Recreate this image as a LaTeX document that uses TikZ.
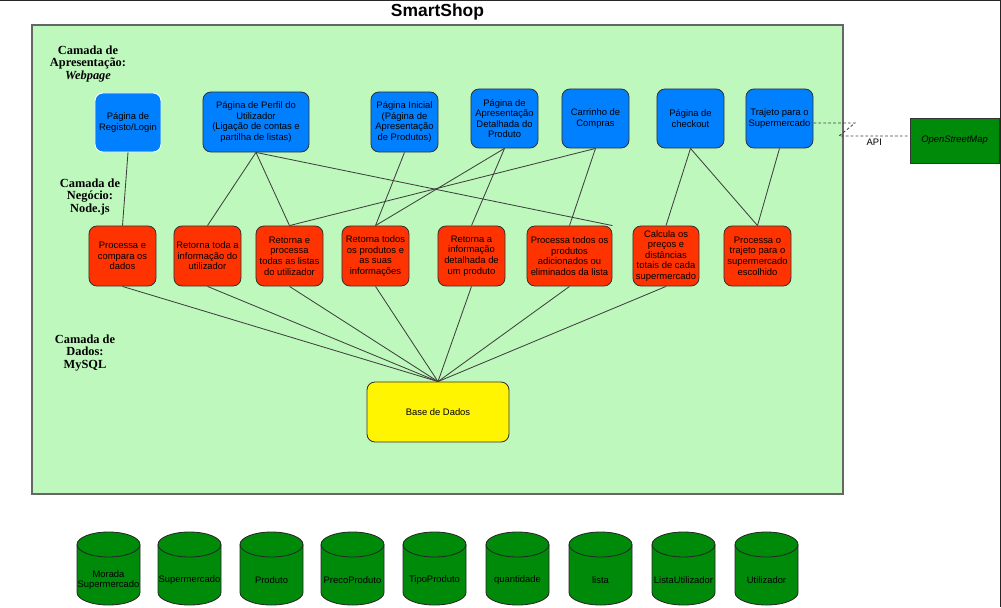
\documentclass[tikz,border=0pt]{standalone}
\usepackage{fontspec}
\setmainfont{Liberation Sans}
\newfontfamily\camadafont{Liberation Serif}
\usepackage{xcolor}
\usepackage{tikz}
\usetikzlibrary{calc}
\usetikzlibrary{positioning}
\definecolor{verdeclaro}{RGB}{191,248,189}
\definecolor{azul}{RGB}{0,127,255}
\definecolor{vermelho}{RGB}{255,51,0}
\definecolor{amarelo}{RGB}{255,245,0}
\definecolor{verde}{RGB}{0,138,10}

\begin{document}
\begin{tikzpicture}[x=0.025cm,y=-0.025cm,
	caixa/.style={rounded corners=0.2cm,draw=black!80,line width=0.6pt,align=center,inner sep=1pt,font=\fontsize{6.7}{7.5}\selectfont,minimum width=1.675cm,minimum height=1.5cm},
	pagina/.style={caixa,fill=azul},
	servico/.style={caixa,fill=vermelho},
	camada/.style={align=center,font=\camadafont\bfseries\fontsize{8.8}{8.6}\selectfont},
	ligacao/.style={draw=black!75,line width=0.6pt},
	tabela/.style={align=center,inner sep=0pt,text=black,font=\fontsize{6.7}{7.6}\selectfont}]
	\useasboundingbox (0,0) rectangle (1001,607);
	\draw[line width=1pt,black!85] (0,0.6) -- (1000.3,0.6) -- (1000.3,607);
	\draw[fill=verdeclaro,draw=black!60,line width=0.8pt] (32,25) rectangle (843,494);
	\node[font=\bfseries\fontsize{12.4}{14}\selectfont] (titulo) at (437.5,12) {SmartShop};

	\node[camada] (apresentacao) at (88,64) {Camada de\\Apresentação:\\\textit{Webpage}};
	\node[camada] (negocio) at (90,197) {Camada de\\Negócio:\\Node.js};
	\node[camada] (dados) at (85,353) {Camada de\\Dados:\\MySQL};

	\node[pagina,draw=white,minimum width=1.65cm,minimum height=1.475cm] (registo) at (128,122.5) {Página de\\Registo/Login};
	\node[pagina,minimum width=2.65cm] (perfil) at (256,122) {Página de Perfil do\\Utilizador\\(Ligação de contas e\\partilha de listas)};
	\node[pagina] (inicial) at (404.5,122) {Página Inicial\\(Página de\\Apresentação\\de Produtos)};
	\node[pagina,minimum height=1.475cm] (detalhe) at (504.5,118.5) {Página de\\Apresentação\\Detalhada do\\Produto};
	\node[pagina,minimum height=1.475cm] (carrinho) at (595.5,118.5) {Carrinho de\\Compras};
	\node[pagina,minimum height=1.475cm] (checkout) at (690.5,118.5) {Página de\\checkout};
	\node[pagina,minimum height=1.475cm] (trajeto) at (779.5,118.5) {Trajeto para o\\Supermercado};

	\node[servico] (serv1) at (122.5,256) {Processa e\\compara os\\dados};
	\node[servico] (serv2) at (207.5,256) {Retorna toda a\\informação do\\utilizador};
	\node[servico] (serv3) at (289.5,256) {Retorna e\\processa\\todas as listas\\do utilizador};
	\node[servico] (serv4) at (375.5,256) {Retorna todos\\os produtos e\\as suas\\informações};
	\node[servico] (serv5) at (471.5,256) {Retorna a\\informação\\detalhada de\\um produto};
	\node[servico,minimum width=2.125cm] (serv6) at (569.5,256) {Processa todos os\\produtos\\adicionados ou\\eliminados da lista};
	\node[servico,minimum width=1.65cm] (serv7) at (666,256) {Calcula os\\preços e\\distâncias\\totais de cada\\supermercado};
	\node[servico] (serv8) at (757.5,256) {Processa o\\trajeto para o\\supermercado\\escolhido};

	\node[caixa,fill=amarelo,minimum width=3.55cm] (bd) at (438,412) {Base de Dados};
	\node[draw=black!80,line width=0.6pt,fill=verde,minimum width=2.225cm,minimum height=1.125cm,font=\itshape\fontsize{6.7}{7.5}\selectfont] (osm) at (954.5,140.5) {OpenStreetMap};

	\draw[ligacao] (registo.south) -- (serv1.north);
	\draw[ligacao] (perfil.south) -- (serv2.north);
	\draw[ligacao] (perfil.south) -- (serv3.north);
	\draw[ligacao] (perfil.south) -- (serv6.north east);
	\draw[ligacao] (inicial.south) -- (serv4.north);
	\draw[ligacao] (detalhe.south) -- (serv4.north);
	\draw[ligacao] (detalhe.south) -- (serv5.north);
	\draw[ligacao] (carrinho.south) -- (serv3.north);
	\draw[ligacao] (carrinho.south) -- (serv6.north);
	\draw[ligacao] (checkout.south) -- (serv7.north);
	\draw[ligacao] (checkout.south) -- (serv8.north);
	\draw[ligacao] (trajeto.south) -- (serv8.north);
	\foreach \i in {1,...,7}
		\draw[ligacao] (serv\i.south) -- (bd.north);

	\coordinate (apiA) at (855,123);
	\coordinate (apiB) at (839,136);
	\draw[ligacao,dash pattern=on 2pt off 1.5pt] (trajeto.east |- apiA) -- (apiA) -- (apiB) -- (apiB -| osm.west) node[midway,below,inner sep=2pt,font=\fontsize{6.7}{7.5}\selectfont] (api) {API};

	\foreach \x/\nome [count=\i] in {77/{Morada\\Supermercado},158/Supermercado,240/Produto,321/PrecoProduto,403/TipoProduto,486/quantidade,569/lista,652/ListaUtilizador,735/Utilizador}{
		\draw[fill=verde,draw=black!85,line width=0.6pt] (\x,544.5) -- (\x,592.5) arc[start angle=180,end angle=0,x radius=31.5,y radius=12.5] -- (\x+63,544.5) arc[start angle=0,end angle=-180,x radius=31.5,y radius=12.5] -- cycle;
		\draw[draw=black!85,line width=0.6pt] (\x,544.5) arc[start angle=180,end angle=0,x radius=31.5,y radius=12.5];
		\node[tabela] (tab\i) at (\x+31.5,580) {\nome};
	}
\end{tikzpicture}
\end{document}
